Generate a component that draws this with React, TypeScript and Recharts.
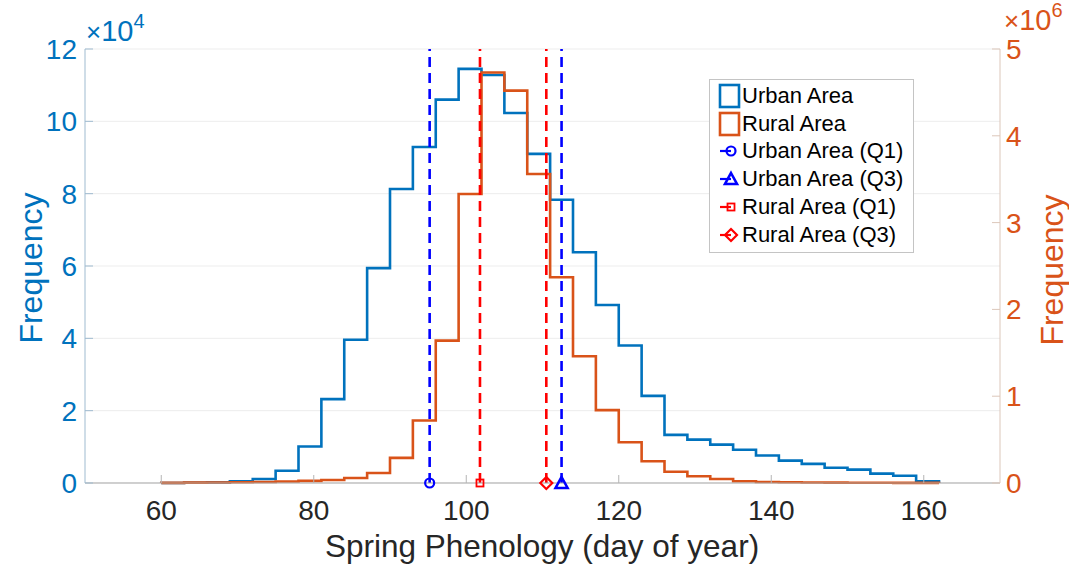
import React from 'react';
import {
  ComposedChart,
  Line,
  XAxis,
  YAxis,
  CartesianGrid,
  ReferenceLine,
  ReferenceDot,
  Legend,
} from 'recharts';

// histogram bin edges (day of year), 3-day bins
const binEdges = [
  60, 63, 66, 69, 72, 75, 78, 81, 84, 87, 90, 93, 96, 99, 102, 105, 108,
  111, 114, 117, 120, 123, 126, 129, 132, 135, 138, 141, 144, 147, 150, 153,
  156, 159, 162,
];

// counts per bin (left edge = binEdges[i])
const urbanCounts = [
  20, 60, 150, 500, 1100, 3400, 10100, 23200, 39600, 59400, 81300, 92900,
  106000, 114500, 112800, 102300, 91000, 78300, 63800, 49200, 38000, 24100,
  13300, 12000, 10600, 9200, 7600, 6200, 5300, 4200, 3700, 2600, 2000, 500,
];
const ruralCounts = [
  2000, 4000, 6000, 9000, 12000, 18000, 25000, 35000, 58000, 115000, 290000,
  720000, 1640000, 3330000, 4730000, 4520000, 3560000, 2370000, 1460000,
  840000, 470000, 250000, 130000, 78000, 46000, 20000, 12000, 8000, 5000,
  4000, 3000, 2500, 2000, 1500,
];

// quartiles
const urbanQ1 = 95.2;
const urbanQ3 = 112.5;
const ruralQ1 = 101.8;
const ruralQ3 = 110.5;

const xTicks = [60, 80, 100, 120, 140, 160];
const urbanTicks = [0, 20000, 40000, 60000, 80000, 100000, 120000];
const ruralTicks = [0, 1000000, 2000000, 3000000, 4000000, 5000000];

const URBAN = '#0072BD';
const RURAL = '#D95319';
const QBLUE = '#0000FF';
const QRED = '#FF0000';
const FONT = '"Liberation Sans", Arial, Helvetica, sans-serif';

const toStairs = (counts: number[]) => [
  { x: binEdges[0], v: 0 },
  ...binEdges.map((e, i) => ({ x: e, v: i < counts.length ? counts[i] : 0 })),
];

const urbanData = toStairs(urbanCounts);
const ruralData = toStairs(ruralCounts);

type MarkerKind = 'circle' | 'triangle' | 'square' | 'diamond';

const drawMarker = (kind: MarkerKind, cx: number, cy: number, color: string) => {
  switch (kind) {
    case 'circle':
      return <circle cx={cx} cy={cy} r={4.5} fill="none" stroke={color} strokeWidth={2.2} />;
    case 'triangle':
      return (
        <polygon
          points={`${cx},${cy - 6} ${cx + 6},${cy + 5} ${cx - 6},${cy + 5}`}
          fill="none"
          stroke={color}
          strokeWidth={2.6}
        />
      );
    case 'square':
      return <rect x={cx - 3.5} y={cy - 3.5} width={7} height={7} fill="none" stroke={color} strokeWidth={1.8} />;
    default:
      return (
        <polygon
          points={`${cx},${cy - 6} ${cx + 6},${cy} ${cx},${cy + 6} ${cx - 6},${cy}`}
          fill="none"
          stroke={color}
          strokeWidth={2.2}
        />
      );
  }
};

const XTick = (props: any) => {
  const { x, y, payload } = props;
  return (
    <g>
      <line x1={x} y1={y} x2={x} y2={y - 8} stroke="#b5b5b5" />
      <text x={x} y={y + 37} textAnchor="middle" fill="#262626" fontSize={28} fontFamily={FONT}>
        {payload.value}
      </text>
    </g>
  );
};

const TopTick = (props: any) => {
  const { x, y } = props;
  return <line x1={x} y1={y} x2={x} y2={y + 8} stroke="#b5b5b5" />;
};

const LeftTick = (props: any) => {
  const { x, y, payload } = props;
  return (
    <g>
      <line x1={x} y1={y} x2={x + 8} y2={y} stroke="#9fbbd0" />
      <text x={x - 8} y={y + 10} textAnchor="end" fill={URBAN} fontSize={28} fontFamily={FONT}>
        {payload.value / 10000}
      </text>
    </g>
  );
};

const RightTick = (props: any) => {
  const { x, y, payload } = props;
  return (
    <g>
      <line x1={x} y1={y} x2={x - 8} y2={y} stroke="#dcc7ba" />
      <text x={x + 6} y={y + 10} textAnchor="start" fill={RURAL} fontSize={28} fontFamily={FONT}>
        {payload.value / 1000000}
      </text>
    </g>
  );
};

const LeftTitle = () => (
  <g fontFamily={FONT}>
    <text transform="translate(42,268) rotate(-90)" textAnchor="middle" fill={URBAN} fontSize={32}>
      Frequency
    </text>
    <text x={86} y={41} fill={URBAN} fontSize={29}>
      <tspan fontSize={26}>×</tspan>10<tspan dy={-13} fontSize={20}>4</tspan>
    </text>
  </g>
);

const RightTitle = () => (
  <g fontFamily={FONT}>
    <text transform="translate(1063,270) rotate(-90)" textAnchor="middle" fill={RURAL} fontSize={32}>
      Frequency
    </text>
    <text x={1004} y={30} fill={RURAL} fontSize={29}>
      <tspan fontSize={26}>×</tspan>10<tspan dy={-13} fontSize={20}>6</tspan>
    </text>
  </g>
);

const XTitle = () => (
  <text x={542} y={557} textAnchor="middle" fill="#262626" fontSize={31.5} fontFamily={FONT}>
    Spring Phenology (day of year)
  </text>
);

const legendRows: { label: string; kind: 'box' | MarkerKind; color: string }[] = [
  { label: 'Urban Area', kind: 'box', color: URBAN },
  { label: 'Rural Area', kind: 'box', color: RURAL },
  { label: 'Urban Area (Q1)', kind: 'circle', color: QBLUE },
  { label: 'Urban Area (Q3)', kind: 'triangle', color: QBLUE },
  { label: 'Rural Area (Q1)', kind: 'square', color: QRED },
  { label: 'Rural Area (Q3)', kind: 'diamond', color: QRED },
];

const LegendBox = () => (
  <div
    style={{
      border: '1px solid #c4c4c4',
      background: '#fff',
      padding: '2px 0 3px 0',
      fontFamily: FONT,
      fontSize: 22,
      color: '#000',
    }}
  >
    {legendRows.map((r) => (
      <div key={r.label} style={{ display: 'flex', alignItems: 'center', height: 27.8 }}>
        <svg width={32} height={26} style={{ flex: 'none' }}>
          {r.kind === 'box' ? (
            <rect x={10} y={2} width={19} height={22} fill="none" stroke={r.color} strokeWidth={2.6} />
          ) : (
            <g>
              <line x1={10} y1={13} x2={21} y2={13} stroke={r.color} strokeWidth={2.2} />
              {drawMarker(r.kind, 21, 13, r.color)}
            </g>
          )}
        </svg>
        <span style={{ whiteSpace: 'nowrap' }}>{r.label}</span>
      </div>
    ))}
  </div>
);

export default function App() {
  return (
    <div style={{ position: 'absolute', left: 0, top: 0, width: 1069, height: 570, background: '#fff' }}>
      <ComposedChart width={1069} height={570} margin={{ top: 49, right: 0, bottom: 0, left: 0 }}>
        <CartesianGrid yAxisId="left" vertical={false} stroke="#ededed" />
        <XAxis
          dataKey="x"
          type="number"
          domain={[50, 170]}
          ticks={xTicks}
          height={87}
          tickSize={0}
          tickMargin={0}
          tickLine={false}
          tick={<XTick />}
          axisLine={{ stroke: '#a9a9a9' }}
          label={<XTitle />}
        />
        <XAxis
          xAxisId="top"
          orientation="top"
          dataKey="x"
          type="number"
          domain={[50, 170]}
          ticks={xTicks}
          height={0}
          tickSize={0}
          tickMargin={0}
          tickLine={false}
          tick={<TopTick />}
          axisLine={{ stroke: '#c8c8c8' }}
        />
        <YAxis
          yAxisId="left"
          width={85}
          domain={[0, 120000]}
          ticks={urbanTicks}
          tickSize={0}
          tickMargin={0}
          tickLine={false}
          tick={<LeftTick />}
          axisLine={{ stroke: '#9fbbd0' }}
          label={<LeftTitle />}
        />
        <YAxis
          yAxisId="right"
          orientation="right"
          width={69}
          domain={[0, 5000000]}
          ticks={ruralTicks}
          tickSize={0}
          tickMargin={0}
          tickLine={false}
          tick={<RightTick />}
          axisLine={{ stroke: '#dcc7ba' }}
          label={<RightTitle />}
        />
        <Line
          yAxisId="left"
          data={urbanData}
          dataKey="v"
          type="stepAfter"
          stroke={URBAN}
          strokeWidth={2.6}
          dot={false}
          isAnimationActive={false}
        />
        <Line
          yAxisId="right"
          data={ruralData}
          dataKey="v"
          type="stepAfter"
          stroke={RURAL}
          strokeWidth={2.6}
          dot={false}
          isAnimationActive={false}
        />
        <ReferenceLine yAxisId="left" x={urbanQ1} stroke={QBLUE} strokeWidth={2.6} strokeDasharray="10 6" />
        <ReferenceLine yAxisId="left" x={urbanQ3} stroke={QBLUE} strokeWidth={2.6} strokeDasharray="10 6" />
        <ReferenceLine yAxisId="left" x={ruralQ1} stroke={QRED} strokeWidth={2.6} strokeDasharray="10 6" />
        <ReferenceLine yAxisId="left" x={ruralQ3} stroke={QRED} strokeWidth={2.6} strokeDasharray="10 6" />
        <ReferenceDot
          yAxisId="left"
          x={urbanQ1}
          y={0}
          r={5}
          shape={(p: any) => drawMarker('circle', p.cx, p.cy, QBLUE)}
        />
        <ReferenceDot
          yAxisId="left"
          x={urbanQ3}
          y={0}
          r={5}
          shape={(p: any) => drawMarker('triangle', p.cx, p.cy, QBLUE)}
        />
        <ReferenceDot
          yAxisId="left"
          x={ruralQ1}
          y={0}
          r={5}
          shape={(p: any) => drawMarker('square', p.cx, p.cy, QRED)}
        />
        <ReferenceDot
          yAxisId="left"
          x={ruralQ3}
          y={0}
          r={5}
          shape={(p: any) => drawMarker('diamond', p.cx, p.cy, QRED)}
        />
        <Legend
          layout="vertical"
          align="center"
          verticalAlign="middle"
          content={<LegendBox />}
          wrapperStyle={{ left: 709, top: 79, width: 205, height: 'auto' }}
        />
      </ComposedChart>
    </div>
  );
}
